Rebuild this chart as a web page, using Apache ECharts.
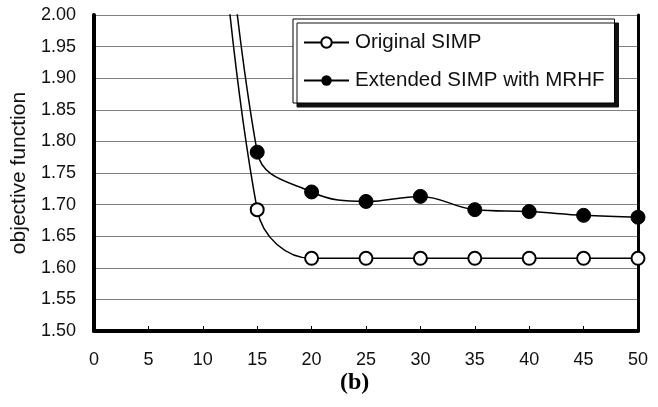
<!DOCTYPE html>
<html>
<head>
<meta charset="utf-8">
<script src="https://cdn.jsdelivr.net/npm/echarts@6/dist/echarts.min.js"></script>
<style>
  html, body { margin: 0; padding: 0; background: #fff; }
  #chart { width: 658px; height: 407px; }
</style>
</head>
<body>
<div id="chart"></div>
<script>
// iterations on x, objective function on y (the x=10 points sit above the plot and get clipped)
var iterations = [10, 15, 20, 25, 30, 35, 40, 45, 50];
var originalSimp = [2.55, 1.692, 1.615, 1.615, 1.615, 1.615, 1.615, 1.615, 1.615];
var extendedSimp = [2.69, 1.783, 1.720, 1.705, 1.713, 1.692, 1.689, 1.683, 1.680];
var seriesNames = ['Original SIMP', 'Extended SIMP with MRHF'];

function pairs(xs, ys) {
    var out = [];
    for (var i = 0; i < xs.length; i++) {
        out.push([xs[i], ys[i]]);
    }
    return out;
}

var font = "'Liberation Sans', Arial, sans-serif";
var myChart = echarts.init(document.getElementById('chart'));
var option = {
    animation: false,
    backgroundColor: '#fff',
    title: {
        text: '(b)',
        left: 340,
        top: 371,
        padding: 0,
        textStyle: { fontFamily: "'Liberation Serif', 'Times New Roman', serif", fontWeight: 'bold', fontSize: 24, color: '#000' }
    },
    grid: { left: 94, right: 20, top: 15, bottom: 76, outerBoundsMode: 'none' },
    legend: {
        orient: 'vertical',
        left: 293,
        top: 19,
        padding: [13, 10, 12, 10],
        itemGap: 17,
        itemWidth: 45,
        itemHeight: 13,
        backgroundColor: '#fff',
        borderColor: '#000',
        borderWidth: 1,
        shadowColor: '#111',
        shadowBlur: 0,
        shadowOffsetX: 4,
        shadowOffsetY: 4,
        data: seriesNames,
        textStyle: { fontFamily: font, fontSize: 20.5, color: '#111', padding: [0, 0, 0, 1] }
    },
    xAxis: {
        type: 'value',
        min: 0,
        max: 50,
        interval: 5,
        axisLine: { show: true, onZero: false, lineStyle: { color: '#000', width: 4 } },
        axisTick: { show: true, inside: true, length: 5, lineStyle: { color: '#000', width: 1 } },
        axisLabel: { margin: 20, fontFamily: font, fontSize: 18, color: '#111' },
        splitLine: { show: false }
    },
    yAxis: [{
        type: 'value',
        min: 1.5,
        max: 2.0,
        interval: 0.05,
        name: 'objective function',
        nameLocation: 'middle',
        nameGap: 63,
        nameTextStyle: { fontFamily: font, fontSize: 21, color: '#111' },
        axisLine: { show: true, onZero: false, lineStyle: { color: '#000', width: 4 } },
        axisTick: { show: false },
        axisLabel: {
            margin: 18,
            fontFamily: font,
            fontSize: 18,
            color: '#111',
            formatter: function (v) { return v.toFixed(2); }
        },
        splitLine: { show: true, lineStyle: { color: '#808080', width: 1 } }
    }, {
        type: 'value',
        position: 'right',
        min: 1.5,
        max: 2.0,
        interval: 0.05,
        axisLine: { show: true, onZero: false, lineStyle: { color: '#000', width: 3 } },
        axisTick: { show: false },
        axisLabel: { show: false },
        splitLine: { show: false }
    }],
    series: [{
        name: seriesNames[0],
        type: 'line',
        smooth: 0.4,
        clip: true,
        symbol: 'emptyCircle',
        symbolSize: 13,
        lineStyle: { color: '#000', width: 1.5 },
        itemStyle: { color: '#000', borderColor: '#000', borderWidth: 1.5 },
        data: pairs(iterations, originalSimp)
    }, {
        name: seriesNames[1],
        type: 'line',
        smooth: 0.4,
        clip: true,
        symbol: 'circle',
        symbolSize: 14,
        lineStyle: { color: '#000', width: 1.5 },
        itemStyle: { color: '#000', borderColor: '#000' },
        data: pairs(iterations, extendedSimp)
    }]
};
myChart.setOption(option);
</script>
</body>
</html>
